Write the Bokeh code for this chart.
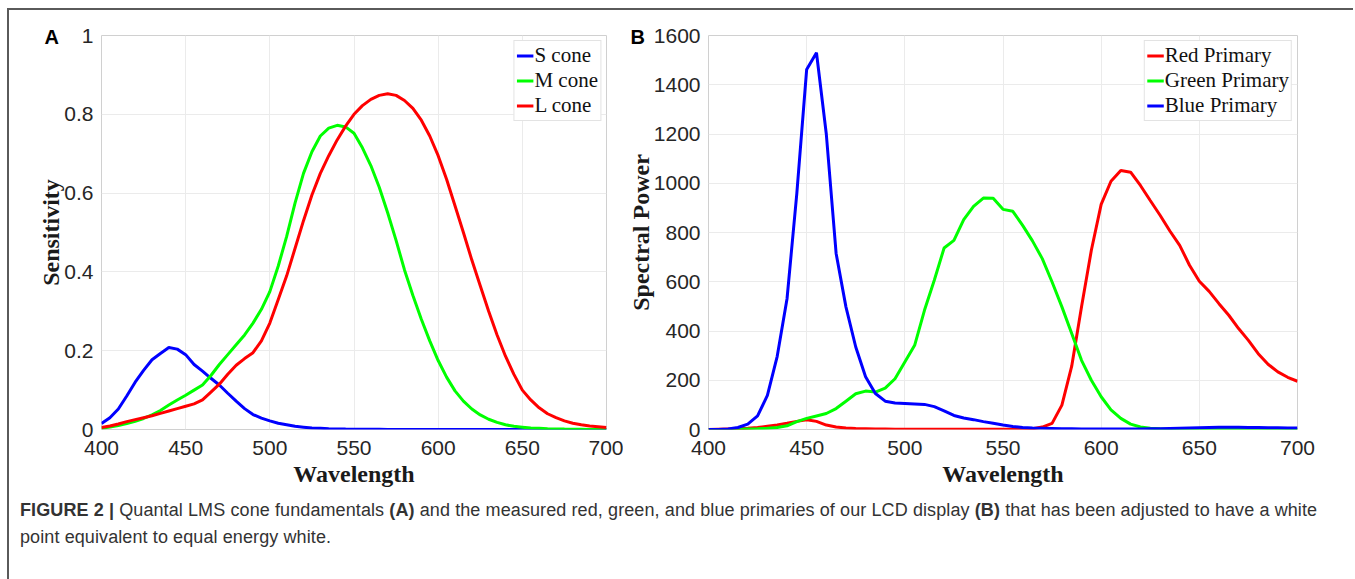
from bokeh.plotting import figure
from bokeh.models import Range1d, FixedTicker, Div, Title
from bokeh.layouts import column, row
from bokeh.embed import file_html
from bokeh.resources import INLINE

# ---------------- data ----------------
wl_a = [400, 405, 410, 415, 420, 425, 430, 435, 440, 445, 450, 455, 460, 465, 470, 475,
        480, 485, 490, 495, 500, 505, 510, 515, 520, 525, 530, 535, 540, 545, 550, 555,
        560, 565, 570, 575, 580, 585, 590, 595, 600, 605, 610, 615, 620, 625, 630, 635,
        640, 645, 650, 655, 660, 665, 670, 675, 680, 685, 690, 695, 700]
s_cone = [0.015, 0.03, 0.052, 0.085, 0.12, 0.15, 0.177, 0.193, 0.208, 0.204, 0.19, 0.165,
          0.148, 0.13, 0.113, 0.092, 0.072, 0.053, 0.038, 0.029, 0.022, 0.016, 0.012, 0.008,
          0.006, 0.004, 0.003, 0.002, 0.0015, 0.001, 0.0008, 0.0006, 0.0005, 0.0004, 0.0003,
          0.0003, 0.0002, 0.0002, 0.0002, 0.0001, 0.0001, 0.0001, 0.0001, 0.0001, 0.0001,
          0.0001, 0.0001, 0.0001, 0.0001, 0.0001, 0.0001, 0.0001, 0.0001, 0.0001, 0.0001,
          0.0001, 0.0001, 0.0001, 0.0001, 0.0001, 0.0001]
m_cone = [0.003, 0.006, 0.01, 0.015, 0.021, 0.028, 0.037, 0.048, 0.062, 0.075, 0.087, 0.1,
          0.113, 0.137, 0.165, 0.19, 0.215, 0.24, 0.27, 0.305, 0.35, 0.415, 0.49, 0.575,
          0.65, 0.705, 0.745, 0.765, 0.772, 0.768, 0.752, 0.715, 0.67, 0.615, 0.55, 0.48,
          0.405, 0.34, 0.28, 0.225, 0.175, 0.133, 0.098, 0.072, 0.052, 0.037, 0.026, 0.018,
          0.012, 0.008, 0.006, 0.004, 0.003, 0.002, 0.0015, 0.001, 0.0007, 0.0005, 0.0003,
          0.0002, 0.0001]
l_cone = [0.005, 0.009, 0.014, 0.02, 0.025, 0.03, 0.035, 0.041, 0.047, 0.053, 0.059, 0.065,
          0.075, 0.095, 0.115, 0.14, 0.163, 0.18, 0.195, 0.225, 0.27, 0.33, 0.39, 0.46,
          0.53, 0.595, 0.65, 0.695, 0.735, 0.77, 0.8, 0.822, 0.838, 0.848, 0.852, 0.848,
          0.835, 0.815, 0.785, 0.745, 0.695, 0.635, 0.568, 0.5, 0.43, 0.365, 0.3, 0.24,
          0.186, 0.14, 0.1, 0.075, 0.055, 0.04, 0.03, 0.022, 0.016, 0.012, 0.009, 0.007, 0.005]

wl_b = wl_a
red_primary = [0, 1, 2, 3, 5, 8, 13, 18, 25, 33, 40, 33, 18, 10, 6, 4, 3, 2, 2, 1, 1, 1, 1,
               1, 1, 1, 1, 1, 1, 1, 1, 1, 1, 3, 10, 25, 99, 257, 498, 728, 914, 1008, 1052,
               1045, 991, 930, 870, 806, 748, 667, 602, 561, 511, 464, 410, 362, 308, 265,
               234, 212, 196]
green_primary = [0, 0, 0, 1, 2, 3, 5, 8, 15, 32, 45, 55, 65, 85, 115, 145, 156, 152, 168,
                 206, 274, 342, 484, 606, 737, 768, 852, 906, 940, 939, 894, 886, 829, 766,
                 694, 599, 498, 390, 281, 200, 133, 80, 45, 22, 10, 5, 3, 2, 1, 1, 0, 0, 0,
                 0, 0, 0, 0, 0, 0, 0, 0]
blue_primary = [0, 0, 2, 8, 22, 55, 139, 297, 531, 960, 1462, 1530, 1200, 715, 498, 335, 214,
                146, 115, 108, 106, 104, 102, 93, 76, 57, 47, 40, 32, 25, 18, 12, 8, 6, 5, 4,
                3, 3, 2, 2, 2, 2, 2, 2, 2, 3, 3, 4, 5, 6, 7, 8, 9, 9, 9, 8, 8, 7, 7, 6, 6]

x_ticks = [400, 450, 500, 550, 600, 650, 700]
x_tick_labels = ["400", "450", "500", "550", "600", "650", "700"]
ya_ticks = [0, 0.2, 0.4, 0.6, 0.8, 1]
ya_tick_labels = ["0", "0.2", "0.4", "0.6", "0.8", "1"]
yb_ticks = [0, 200, 400, 600, 800, 1000, 1200, 1400, 1600]
yb_tick_labels = ["0", "200", "400", "600", "800", "1000", "1200", "1400", "1600"]

BLUE, GREEN, RED = "#0000ff", "#00ff00", "#ff0000"
TICK_FONT = "Liberation Sans"
SERIF = "Liberation Serif"


def style(p, yticks, ylabels, ylabel, ylabel_standoff):
    p.xaxis.ticker = FixedTicker(ticks=x_ticks)
    p.xaxis.major_label_overrides = {t: l for t, l in zip(x_ticks, x_tick_labels)}
    p.yaxis.ticker = FixedTicker(ticks=yticks)
    p.yaxis.major_label_overrides = {t: l for t, l in zip(yticks, ylabels)}
    p.xgrid.ticker = FixedTicker(ticks=x_ticks)
    p.ygrid.ticker = FixedTicker(ticks=yticks)
    for ax in (p.xaxis[0], p.yaxis[0]):
        ax.axis_line_color = None
        ax.major_tick_line_color = None
        ax.minor_tick_line_color = None
        ax.major_tick_in = 0
        ax.minor_tick_in = 0
        ax.minor_tick_out = 0
        ax.major_label_text_font = TICK_FONT
        ax.major_label_text_font_size = "21px"
        ax.major_label_text_color = "#262626"
        ax.axis_label_text_font = SERIF
        ax.axis_label_text_font_style = "bold"
        ax.axis_label_text_font_size = "24px"
        ax.axis_label_text_color = "#1a1a1a"
    p.xaxis.major_tick_out = 6
    p.yaxis.major_tick_out = 0
    p.xaxis.major_label_standoff = 5
    p.xaxis.axis_label_standoff = 3
    p.yaxis.major_label_standoff = 8
    p.yaxis.axis_label_standoff = ylabel_standoff
    p.xaxis.axis_label = "Wavelength"
    p.yaxis.axis_label = ylabel
    p.grid.grid_line_color = "#ebebeb"
    p.grid.grid_line_width = 1
    p.outline_line_color = "#d0d0d0"
    p.outline_line_width = 1
    p.background_fill_color = "white"
    p.border_fill_color = "white"


def legend_style(p):
    lg = p.legend[0]
    lg.location = "top_right"
    lg.margin = 5
    lg.padding = 2
    lg.spacing = 0
    lg.label_height = 25
    lg.glyph_height = 25
    lg.glyph_width = 17
    lg.label_standoff = 1
    lg.label_text_font = SERIF
    lg.label_text_font_size = "21px"
    lg.label_text_color = "#111111"
    lg.border_line_color = "#c8c8c8"
    lg.border_line_width = 1
    lg.background_fill_alpha = 1


def panel_letter(p, letter, offset):
    p.add_layout(Title(text=letter, align="left", offset=offset, standoff=-24,
                       text_font=TICK_FONT, text_font_style="bold", text_font_size="20px",
                       text_color="black"), "above")


# ---------------- panel A ----------------
pa = figure(width=614, height=485, output_backend="svg", toolbar_location=None,
            x_range=Range1d(400, 700), y_range=Range1d(0, 1),
            min_border_left=92, min_border_right=17, min_border_top=25, min_border_bottom=66)
style(pa, ya_ticks, ya_tick_labels, "Sensitivity", -3)
pa.line(wl_a, s_cone, color=BLUE, line_width=3, legend_label="S cone")
pa.line(wl_a, m_cone, color=GREEN, line_width=3, legend_label="M cone")
pa.line(wl_a, l_cone, color=RED, line_width=3, legend_label="L cone")
legend_style(pa)
panel_letter(pa, "A", -57)

# ---------------- panel B ----------------
pb = figure(width=722, height=485, output_backend="svg", toolbar_location=None,
            x_range=Range1d(400, 700), y_range=Range1d(0, 1600),
            min_border_left=85, min_border_right=48, min_border_top=25, min_border_bottom=66)
style(pb, yb_ticks, yb_tick_labels, "Spectral Power", -3)
pb.line(wl_b, red_primary, color=RED, line_width=3, legend_label="Red Primary")
pb.line(wl_b, green_primary, color=GREEN, line_width=3, legend_label="Green Primary")
pb.line(wl_b, blue_primary, color=BLUE, line_width=3, legend_label="Blue Primary")
legend_style(pb)
panel_letter(pb, "B", -78)

caption = Div(
    text=("<b>FIGURE 2 |</b> Quantal LMS cone fundamentals <b>(A)</b> and the measured red, "
          "green, and blue primaries of our LCD display <b>(B)</b> that has been adjusted to "
          "have a white<br>point equivalent to equal energy white."),
    width=1334, height=76,
    styles={"font-family": "Liberation Sans, Arial, sans-serif", "font-size": "18px",
            "letter-spacing": "0.1px", "position": "relative", "top": "-3px",
            "line-height": "27px", "color": "#333333", "padding-left": "6px",
            "padding-top": "0px", "white-space": "nowrap"})

layout = column(row(pa, pb), caption, margin=(8, 0, 0, 7),
                styles={"border-left": "2px solid #5a5a5a", "border-top": "2px solid #5a5a5a"})

open("out.html", "w").write(file_html(layout, INLINE))
